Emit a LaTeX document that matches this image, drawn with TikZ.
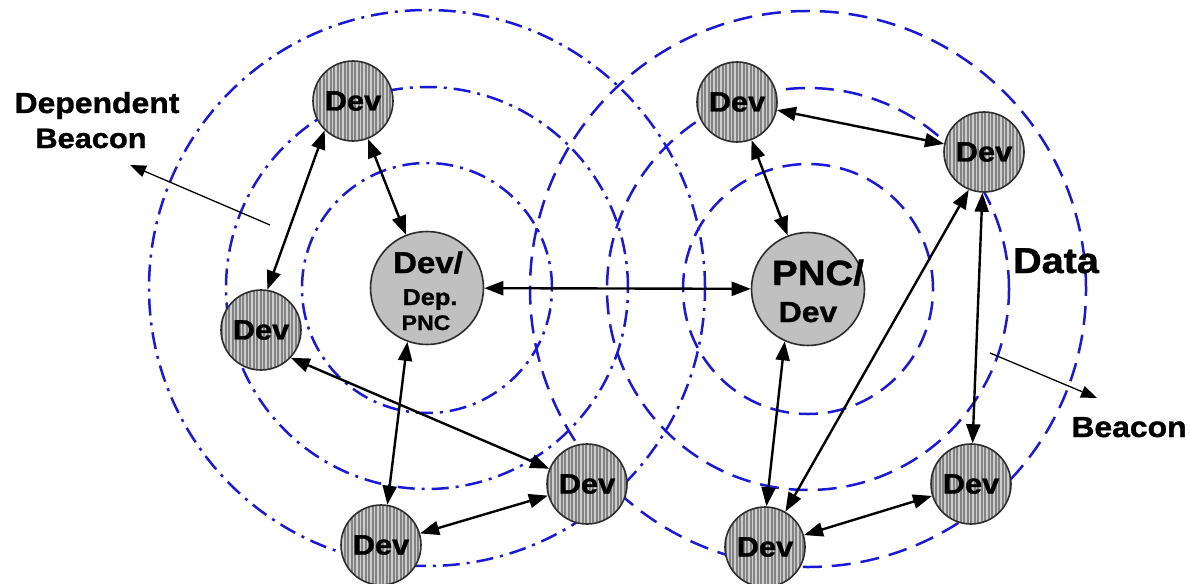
\documentclass[tikz,border=0pt]{standalone}
\usepackage{fontspec}
\setmainfont{Liberation Sans}[FakeStretch=1.1, BoldFeatures={FakeBold=1.2}]
\usetikzlibrary{arrows.meta,patterns.meta}
\definecolor{ringblue}{RGB}{25,25,215}
\definecolor{nodeedge}{RGB}{45,45,45}
\definecolor{pncfill}{RGB}{192,192,192}
\definecolor{devbase}{RGB}{130,130,130}
\definecolor{devstripe}{RGB}{205,205,205}
\newcommand{\fs}[1]{\bfseries\fontsize{#1}{#1}\selectfont}
\begin{document}
\begin{tikzpicture}[x=1pt,y=-1pt,
  devnode/.style={circle, draw=nodeedge, line width=1.6pt, minimum size=80pt, inner sep=0pt,
    preaction={fill=devbase}, pattern={Lines[angle=90,distance=3.5pt,line width=1.5pt]},
    pattern color=devstripe, font=\fs{28}},
  pncnode/.style={circle, draw=nodeedge, line width=1.6pt, minimum size=113pt, inner sep=0pt, fill=pncfill},
  ringdd/.style={draw=ringblue, line width=2.5pt, dash pattern=on 17pt off 7pt on 3pt off 7pt},
  ringd/.style={draw=ringblue, line width=2.5pt, dash pattern=on 19pt off 10pt},
  biarrow/.style={line width=2.4pt, {Triangle[length=19pt,width=14pt]}-{Triangle[length=19pt,width=14pt]}},
  pointer/.style={line width=1.3pt, -{Triangle[length=16pt,width=12pt]}},
  lbl/.style={anchor=base, inner sep=0pt}
]
\useasboundingbox (0,0) rectangle (1190,583);
\fill[white] (0,0) rectangle (1190,583);

% rings
\draw[ringdd] (427,288) circle[radius=125pt];
\draw[ringdd] (427,288) circle[radius=201pt];
\draw[ringdd] (427,288) circle[radius=278pt];
\draw[ringd] (808,289) circle[radius=125pt];
\draw[ringd] (808,289) circle[radius=201pt];
\draw[ringd] (808,289) circle[radius=278pt];

% nodes
\node[devnode] (tl) at (353,101) {Dev};
\node[devnode] (ld) at (261,330) {Dev};
\node[pncnode] (dpnc) at (427,288) {};
\node[pncnode] (pnc) at (808,289) {};
\node[devnode] (tr) at (737,102) {Dev};
\node[devnode] (frt) at (984,152) {Dev};
\node[devnode] (bcl) at (587,484) {Dev};
\node[devnode] (bl) at (381,545) {Dev};
\node[devnode] (br) at (765,547) {Dev};
\node[devnode] (bfr) at (971,484) {Dev};

% big node texts
\node[lbl, font=\fs{30}] (dpnc1) at (428,273) {Dev/};
\node[lbl, font=\fs{23}] (dpnc2) at (430,305) {Dep.};
\node[lbl, font=\fs{21}] (dpnc3) at (426,330) {PNC};
\node[lbl, font=\fs{35}] (pnc1) at (818,285) {PNC/};
\node[lbl, font=\fs{29}] (pnc2) at (808,322) {Dev};

% labels
\node[lbl, font=\fs{29}] (dep1) at (97,113) {Dependent};
\node[lbl, font=\fs{28}] (dep2) at (91,148) {Beacon};
\node[lbl, font=\fs{36}] (data) at (1056,273) {Data};
\node[lbl, font=\fs{29}] (beacon) at (1129,437) {Beacon};

% thin pointers
\coordinate (dbs) at (270,225);
\coordinate (dbt) at (130,165);
\draw[pointer] (dbs) -- (dbt);
\coordinate (bs) at (990,353);
\coordinate (bt) at (1097,398);
\draw[pointer] (bs) -- (bt);

% links
\draw[biarrow] (tl.-134) -- (ld.81);
\draw[biarrow] (tl) -- (dpnc);
\draw[biarrow] (dpnc) -- (pnc);
\draw[biarrow] (ld.-43) -- (bcl.158);
\draw[biarrow] (dpnc.-110) -- (bl.81);
\draw[biarrow] (bl) -- (bcl);
\draw[biarrow] (tr) -- (frt);
\draw[biarrow] (tr) -- (pnc);
\draw[biarrow] (pnc.-114) -- (br.88);
\draw[biarrow] (br.60) -- (frt.-112);
\draw[biarrow] (frt) -- (bfr);
\draw[biarrow] (br) -- (bfr);
\end{tikzpicture}
\end{document}
